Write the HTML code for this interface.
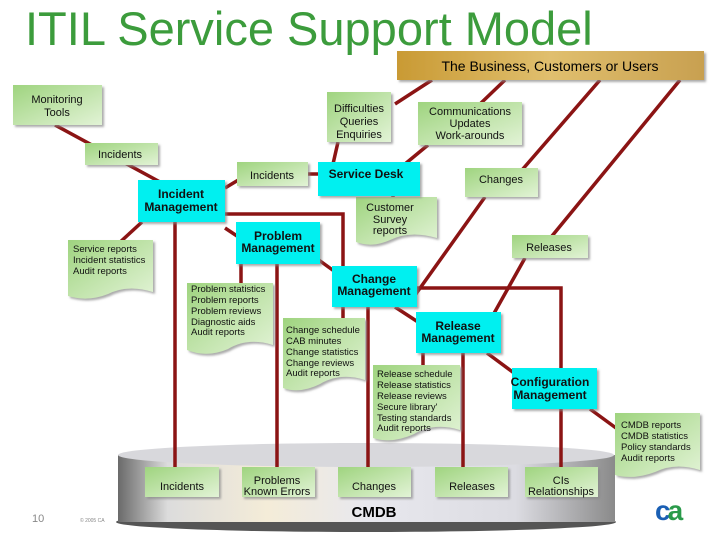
<!DOCTYPE html>
<html><head><meta charset="utf-8"><style>
body{margin:0;background:#fff;width:720px;height:540px;overflow:hidden}
svg{display:block}
text{font-family:"Liberation Sans",Arial,sans-serif}
</style></head><body>
<svg width="720" height="540" viewBox="0 0 720 540">
<defs>
<linearGradient id="g" x1="0" y1="0" x2="1" y2="1"><stop offset="0" stop-color="#9fd47f"/><stop offset="1" stop-color="#e2f3d6"/></linearGradient>
<linearGradient id="gold" x1="0" y1="0" x2="1" y2="0"><stop offset="0" stop-color="#c99a34"/><stop offset="0.5" stop-color="#e0bf6e"/><stop offset="1" stop-color="#c8a050"/></linearGradient>
<linearGradient id="cyl" x1="0" y1="0" x2="1" y2="0"><stop offset="0" stop-color="#6a6a6a"/><stop offset="0.1" stop-color="#dcdcdc"/><stop offset="0.3" stop-color="#f4ecd8"/><stop offset="0.5" stop-color="#e8e8ee"/><stop offset="0.8" stop-color="#dcdce2"/><stop offset="1" stop-color="#8a8a8a"/></linearGradient>
<filter id="sh" x="-10%" y="-10%" width="130%" height="130%"><feDropShadow dx="2" dy="2" stdDeviation="1" flood-color="#888" flood-opacity="0.7"/></filter>
</defs>
<text x="25" y="45" font-size="47" fill="#3c9c3c">ITIL Service Support Model</text>

<!-- CMDB cylinder -->
<ellipse cx="366" cy="522" rx="250" ry="10" fill="#555"/>
<rect x="118" y="455" width="497" height="67" fill="url(#cyl)"/>
<ellipse cx="366" cy="455" rx="248" ry="12" fill="#d8d8dc"/>
<text x="374" y="517" font-size="15" font-weight="bold" text-anchor="middle">CMDB</text>

<!-- lines -->
<g stroke="#8b1414" stroke-width="3.5" fill="none">
<path d="M55 125 L160 182"/>
<path d="M225 188 L245 176 M300 174 L320 174"/>
<path d="M338 142 L333 164"/>
<path d="M432 80 L395 104"/>
<path d="M505 80 L480 104 M428 145 L405 164"/>
<path d="M600 80 L522 170 M485 197 L413 298"/>
<path d="M680 80 L552 236 M525 258 L483 333"/>
<path d="M393 196 L393 200"/>
<path d="M225 214 L343 214 L343 268"/>
<path d="M225 228 L240 238"/>
<path d="M142 222 L118 244"/>
<path d="M175 222 L175 468"/>
<path d="M241 264 L241 284 M277 264 L277 468"/>
<path d="M316 258 L334 271"/>
<path d="M343 307 L343 320 M368 307 L368 468"/>
<path d="M417 288 L561 288 L561 368"/>
<path d="M395 307 L418 322"/>
<path d="M423 353 L423 366 M463 353 L463 468"/>
<path d="M487 353 L514 373"/>
<path d="M561 409 L561 468 M590 409 L616 428"/>
</g>

<!-- Business -->
<rect x="397" y="51" width="307" height="29" fill="url(#gold)" filter="url(#sh)"/>
<text x="550" y="71" font-size="14" text-anchor="middle">The Business, Customers or Users</text>

<!-- green boxes -->
<g fill="url(#g)" filter="url(#sh)">
<rect x="13" y="85" width="89" height="40"/>
<rect x="85" y="143" width="73" height="22"/>
<rect x="327" y="92" width="64" height="50"/>
<rect x="418" y="102" width="104" height="43"/>
<rect x="237" y="162" width="71" height="24"/>
<rect x="465" y="168" width="73" height="29"/>
<rect x="512" y="235" width="76" height="23"/>
<rect x="145" y="467" width="74" height="30"/>
<rect x="242" y="467" width="73" height="30"/>
<rect x="338" y="467" width="73" height="30"/>
<rect x="435" y="467" width="73" height="30"/>
<rect x="525" y="467" width="73" height="30"/>
<!-- documents -->
<path d="M356 197 H437 V238 Q410 230 390 240 Q372 248 356 242 Z"/>
<path d="M68 240 H153 V292 Q128 284 108 294 Q88 302 68 296 Z"/>
<path d="M187 283 H273 V345 Q248 337 228 349 Q207 358 187 350 Z"/>
<path d="M283 318 H365 V380 Q340 372 320 384 Q300 394 283 388 Z"/>
<path d="M373 365 H460 V430 Q434 422 414 434 Q392 444 373 438 Z"/>
<path d="M615 413 H700 V470 Q675 462 655 472 Q634 480 615 475 Z"/>
</g>

<!-- cyan boxes -->
<g fill="#00f0f0" filter="url(#sh)">
<rect x="318" y="162" width="102" height="34"/>
<rect x="138" y="180" width="87" height="42"/>
<rect x="236" y="222" width="84" height="42"/>
<rect x="332" y="266" width="85" height="41"/>
<rect x="416" y="312" width="85" height="41"/>
<rect x="512" y="368" width="85" height="41"/>
</g>

<g font-size="11" text-anchor="middle" fill="#111">
<text x="57" y="103">Monitoring</text><text x="57" y="116">Tools</text>
<text x="120" y="158">Incidents</text>
<text x="359" y="112">Difficulties</text><text x="359" y="125">Queries</text><text x="359" y="138">Enquiries</text>
<text x="470" y="115">Communications</text><text x="470" y="127">Updates</text><text x="470" y="139">Work-arounds</text>
<text x="272" y="179">Incidents</text>
<text x="501" y="183">Changes</text>
<text x="390" y="211">Customer</text><text x="390" y="223">Survey</text><text x="390" y="234">reports</text>
<text x="549" y="251">Releases</text>
<text x="182" y="490">Incidents</text>
<text x="277" y="484">Problems</text><text x="277" y="495">Known Errors</text>
<text x="374" y="490">Changes</text>
<text x="472" y="490">Releases</text>
<text x="561" y="484">CIs</text><text x="561" y="495">Relationships</text>
</g>
<g font-size="12" font-weight="bold" text-anchor="middle" fill="#111">
<text x="366" y="178">Service Desk</text>
<text x="181" y="198">Incident</text><text x="181" y="211">Management</text>
<text x="278" y="240">Problem</text><text x="278" y="252">Management</text>
<text x="374" y="283">Change</text><text x="374" y="295">Management</text>
<text x="458" y="330">Release</text><text x="458" y="342">Management</text>
<text x="550" y="386">Configuration</text><text x="550" y="399">Management</text>
</g>
<g font-size="9.5" fill="#111">
<text x="73" y="252">Service reports</text><text x="73" y="263">Incident statistics</text><text x="73" y="274">Audit reports</text>
<text x="191" y="292">Problem statistics</text><text x="191" y="303">Problem reports</text><text x="191" y="314">Problem reviews</text><text x="191" y="325">Diagnostic aids</text><text x="191" y="335">Audit reports</text>
<text x="286" y="333">Change schedule</text><text x="286" y="344">CAB minutes</text><text x="286" y="355">Change statistics</text><text x="286" y="366">Change reviews</text><text x="286" y="376">Audit reports</text>
<text x="377" y="377">Release schedule</text><text x="377" y="388">Release statistics</text><text x="377" y="399">Release reviews</text><text x="377" y="410">Secure library'</text><text x="377" y="421">Testing standards</text><text x="377" y="431">Audit reports</text>
<text x="621" y="428">CMDB reports</text><text x="621" y="439">CMDB statistics</text><text x="621" y="450">Policy standards</text><text x="621" y="461">Audit reports</text>
</g>
<text x="32" y="522" font-size="11" fill="#888">10</text>
<text x="80" y="522" font-size="5" fill="#888">© 2005 CA</text>
<text x="655" y="520" font-size="28" font-weight="bold" fill="#1a5fb4" letter-spacing="-3">c<tspan fill="#2a9a4a">a</tspan></text>
</svg>
</body></html>
